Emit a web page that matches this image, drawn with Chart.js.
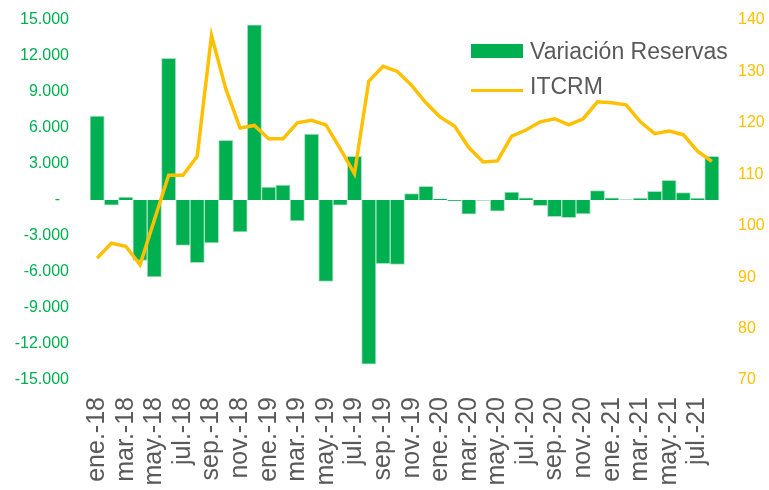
<!DOCTYPE html>
<html>
<head>
<meta charset="utf-8">
<script src="https://cdn.jsdelivr.net/npm/chart.js@4"></script>
<style>
  body { margin: 0; background: #fff; }
  #wrap { position: relative; width: 769px; height: 490px; }
  #leyenda { position: absolute; left: 471px; top: 34px; font-family: "Liberation Sans", Arial, sans-serif; font-size: 23px; color: #595959; }
  #leyenda div { height: 35px; line-height: 35px; white-space: nowrap; }
  #leyenda span.caja { display: inline-block; width: 52px; height: 14px; background: #00B050; vertical-align: middle; margin-right: 7px; position: relative; top: -2px; }
  #leyenda span.linea { display: inline-block; width: 52px; height: 3px; background: #FFC000; vertical-align: middle; margin-right: 7px; position: relative; top: 3px; }
</style>
</head>
<body>
<div id="wrap">
  <canvas id="graficaReservas" width="769" height="490"></canvas>
  <div id="leyenda">
    <div><span class="caja"></span>Variación Reservas</div>
    <div><span class="linea"></span>ITCRM</div>
  </div>
</div>
<script>
const meses = ['ene.', 'feb.', 'mar.', 'abr.', 'may.', 'jun.', 'jul.', 'ago.', 'sep.', 'oct.', 'nov.', 'dic.'];
const anios = ['18', '19', '20', '21'];
const etiquetas = [];
anios.forEach(a => meses.forEach(m => etiquetas.push(m + '-' + a)));
etiquetas.length = 44; // ene.-18 a ago.-21

// Variación de reservas (millones)
const reservas = [7000, -440, 250, -5030, -6420, 11800, -3780, -5220, -3580, 4970,
  -2670, 14600, 1080, 1250, -1750, 5500, -6780, -440, 3640, -13690,
  -5300, -5360, 525, 1140, 100, -80, -1190, -20, -940, 670,
  190, -475, -1390, -1470, -1170, 775, 190, 20, 150, 725,
  1640, 610, 170, 3640];

// Índice de tipo de cambio real multilateral
const itcrm = [93.7, 96.6, 96.0, 92.4, 101.1, 109.8, 109.8, 113.5, 137.0, 126.6,
  119.0, 119.5, 116.9, 116.9, 120.0, 120.5, 119.6, 115.0, 110.1, 128.1,
  131.0, 130.0, 127.3, 123.9, 121.1, 119.4, 115.2, 112.4, 112.6, 117.4,
  118.6, 120.2, 120.8, 119.6, 120.8, 124.1, 123.9, 123.5, 120.2, 117.9,
  118.4, 117.7, 114.5, 112.5];

function formatoMiles(v) {
  if (v === 0) return '-  ';
  const s = Math.abs(v).toString().replace(/\B(?=(\d{3})+(?!\d))/g, '.');
  return (v < 0 ? '-' : '') + s;
}

// sin relleno extra arriba/abajo en los ejes verticales
function ajustarEjeY(ancho) {
  return s => {
    s.width = ancho;
    s.paddingTop = 0;
    s.paddingBottom = 0;
  };
}

function crearGrafico() {
  const ctx = document.getElementById('graficaReservas').getContext('2d');
  return new Chart(ctx, {
    type: 'bar',
    data: {
      labels: etiquetas,
      datasets: [{
        type: 'line',
        label: 'ITCRM',
        data: itcrm,
        yAxisID: 'y1',
        borderColor: '#FFC000',
        borderWidth: 3.5,
        pointRadius: 0,
        tension: 0,
        order: 1
      }, {
        label: 'Variación Reservas',
        data: reservas,
        yAxisID: 'y',
        backgroundColor: '#00B050',
        borderColor: 'rgba(170, 225, 195, 1)',
        borderWidth: 1,
        barPercentage: 1,
        categoryPercentage: 1,
        order: 2
      }]
    },
    options: {
      responsive: false,
      animation: false,
      layout: { padding: { top: 20 } },
      plugins: { legend: { display: false }, tooltip: { enabled: false } },
      scales: {
        x: {
          grid: { display: false, drawTicks: false },
          border: { display: false },
          ticks: {
            autoSkip: false,
            minRotation: 90,
            maxRotation: 90,
            padding: 17,
            color: '#595959',
            font: { family: 'Liberation Sans', size: 25 },
            callback: (v, i) => i % 2 === 0 ? etiquetas[i] : ''
          },
          afterFit: s => { s.height = 110; }
        },
        y: {
          position: 'left',
          min: -15000,
          max: 15000,
          grid: { display: false, drawTicks: false },
          border: { display: false },
          ticks: {
            stepSize: 3000,
            padding: 21,
            color: '#00B050',
            font: { family: 'Liberation Sans', size: 16 },
            callback: v => formatoMiles(v)
          },
          afterFit: ajustarEjeY(90)
        },
        y1: {
          position: 'right',
          min: 70,
          max: 140,
          grid: { display: false, drawTicks: false },
          border: { display: false },
          ticks: {
            stepSize: 10,
            padding: 19,
            color: '#FFC000',
            font: { family: 'Liberation Sans', size: 16 }
          },
          afterFit: ajustarEjeY(50)
        }
      }
    }
  });
}

crearGrafico();
</script>
</body>
</html>
